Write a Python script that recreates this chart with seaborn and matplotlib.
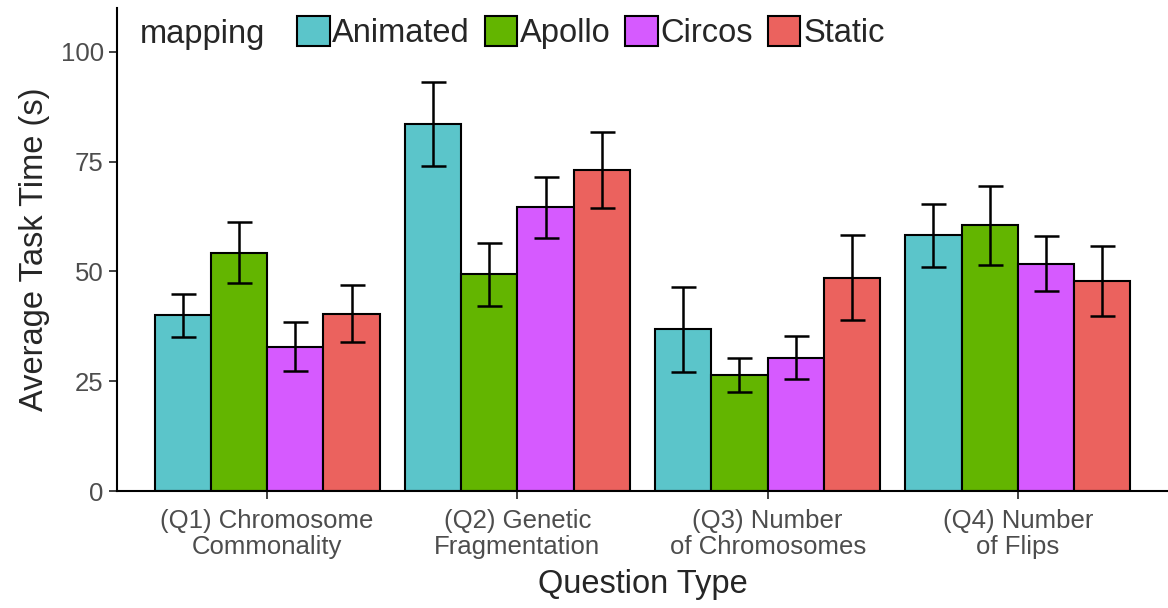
import pandas as pd
import seaborn as sns
import matplotlib.pyplot as plt
from matplotlib.patches import Patch

# values
questions = ["(Q1) Chromosome\nCommonality", "(Q2) Genetic\nFragmentation",
             "(Q3) Number\nof Chromosomes", "(Q4) Number\nof Flips"]
mappings = ["Animated", "Apollo", "Circos", "Static"]
animated = [40.0, 83.6, 36.8, 58.2]
apollo = [54.3, 49.3, 26.5, 60.5]
circos = [32.9, 64.6, 30.4, 51.8]
static = [40.4, 73.1, 48.6, 47.9]
animated_se = [4.9, 9.5, 9.7, 7.1]
apollo_se = [7.0, 7.1, 3.9, 9.0]
circos_se = [5.5, 7.0, 5.0, 6.2]
static_se = [6.4, 8.6, 9.7, 8.0]
colors = ["#5BC5CA", "#63B500", "#D65AFF", "#EB625E"]

means = [animated, apollo, circos, static]
ses = [animated_se, apollo_se, circos_se, static_se]
rows = []
for m, vals, errs in zip(mappings, means, ses):
    for q, v, e in zip(questions, vals, errs):
        rows.append({"question": q, "mapping": m, "time": v, "se": e})
df = pd.DataFrame(rows)

sns.set_style("ticks")
plt.rcParams["font.family"] = ["Liberation Sans", "DejaVu Sans"]

fig = plt.figure(figsize=(11.68, 6.08), dpi=100)
ax = fig.add_axes([0.1002, 0.1924, 0.8998, 0.7946])

palette = dict(zip(mappings, colors))
sns.barplot(data=df, x="question", y="time", hue="mapping", order=questions,
            hue_order=mappings, palette=palette, width=0.9, errorbar=None,
            edgecolor="black", linewidth=1.5, saturation=1, legend=False, ax=ax)

# error bars at bar centres
for cont, m in zip(ax.containers, mappings):
    sub = df[df["mapping"] == m].set_index("question").loc[questions]
    xs = [b.get_x() + b.get_width() / 2 for b in cont]
    ax.errorbar(xs, sub["time"], yerr=sub["se"], fmt="none", ecolor="black",
                elinewidth=1.8, capsize=9, capthick=1.8, zorder=5)

ax.set_xlim(-0.6, 3.6)
ax.set_ylim(0, 110)
ax.set_yticks([0, 25, 50, 75, 100])
ax.tick_params(axis="both", labelsize=18.5, labelcolor="#4D4D4D", color="#333333",
               length=6, width=1.3)
ax.tick_params(axis="x", pad=7)
for lab in ax.get_xticklabels():
    lab.set_linespacing(1.12)
ax.set_xlabel("Question Type", fontsize=23.5, labelpad=7)
ax.set_ylabel("Average Task Time (s)", fontsize=23.5, labelpad=8)
sns.despine(ax=ax)
for s in ["left", "bottom"]:
    ax.spines[s].set_linewidth(1.5)
    ax.spines[s].set_color("black")

# legend with inline title
fig.text(140 / 1168, 1 - 34 / 608, "mapping", fontsize=23.5, va="center", ha="left")
handles = [Patch(facecolor=c, edgecolor="black", linewidth=1.5) for c in colors]
ax.legend(handles, mappings, ncol=4, loc="upper left", frameon=False,
          bbox_to_anchor=(297 / 1168, 1 - 16 / 608), bbox_transform=fig.transFigure,
          fontsize=23.5, handlelength=1.0, handleheight=1.05, handletextpad=0.08,
          columnspacing=0.45, borderpad=0, borderaxespad=0)

fig.savefig("out.png", dpi=100)
